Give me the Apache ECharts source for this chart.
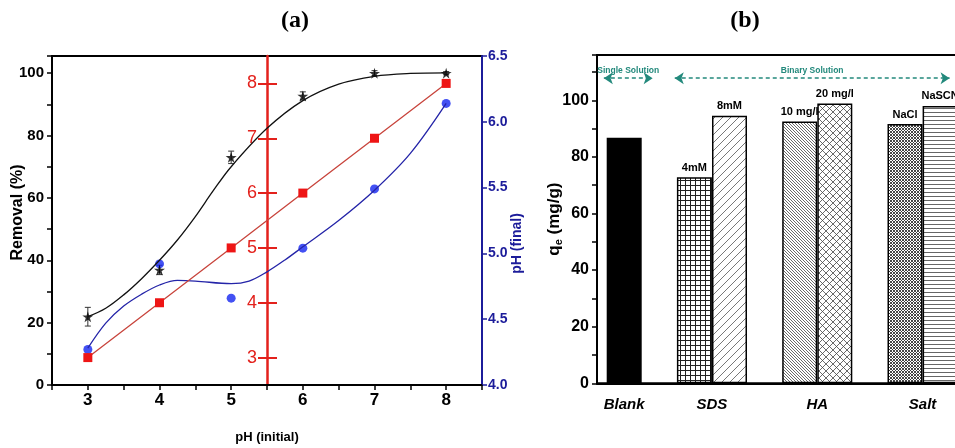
<!DOCTYPE html>
<html><head><meta charset="utf-8">
<script src="https://cdn.jsdelivr.net/npm/echarts@6/dist/echarts.min.js"></script>
<style>html,body{margin:0;padding:0;background:#fff}#c{width:955px;height:448px}</style>
</head><body><div id="c"></div>
<script>
// ---------- Data: panel (a) ----------
const pHInitial = [3, 4, 5, 6, 7, 8];
const removal = [21.9, 36.9, 73.0, 92.7, 100.0, 100.0];
const removalErr = [3.0, 1.5, 2.0, 1.3, 0.8, 0.5];
const pHRed = [3, 4, 5, 6, 7, 8];
const pHFinal = [4.27, 4.92, 4.66, 5.04, 5.49, 6.14];
const removalFitX = [3, 3.25, 3.5, 3.75, 4, 4.25, 4.5, 4.75, 5, 5.5, 6, 6.5, 7, 7.5, 8];
const removalFitY = [21.9, 24.6, 28.9, 34.1, 40.0, 46.5, 54.0, 62.3, 70.0, 82.3, 91.2, 96.5, 99.0, 99.9, 100.1];
const pHFinalFitX = [3, 3.25, 3.5, 3.75, 4, 4.25, 4.5, 5, 5.25, 5.5, 5.75, 6, 6.5, 7, 7.5, 8];
const pHFinalFitY = [4.28, 4.47, 4.60, 4.69, 4.76, 4.795, 4.79, 4.77, 4.79, 4.86, 4.95, 5.05, 5.25, 5.48, 5.76, 6.14];
const xTicksA = [3, 4, 5, 6, 7, 8];

// ---------- Data: panel (b) ----------
const groups = ['Blank', 'SDS', 'HA', 'Salt'];
const barNames = ['', '4mM', '8mM', '10 mg/l', '20 mg/l', 'NaCl', 'NaSCN'];
const barGroup = [0, 1, 1, 2, 2, 3, 3];
const barSlots = [0, 2, 3, 5, 6, 8, 9];
const qe = [86.8, 72.8, 94.5, 92.5, 98.9, 91.6, 98.0];
const solutionLabels = ['Single Solution', 'Binary Solution'];

// ---------- Styles ----------
const SANS = "'Liberation Sans',Arial,sans-serif";
const RED = '#e3211c', BLUE_AX = '#1c1c9a', TEAL = '#23897c';

function pat(size, draw) {
  const c = document.createElement('canvas');
  c.width = c.height = size;
  const g = c.getContext('2d');
  g.fillStyle = '#fff'; g.fillRect(0, 0, size, size);
  g.strokeStyle = '#222'; g.lineWidth = 1;
  draw(g, size);
  return { image: c, repeat: 'repeat' };
}
function seg(g, x1, y1, x2, y2) { g.beginPath(); g.moveTo(x1, y1); g.lineTo(x2, y2); g.stroke(); }
const fills = [
  '#000',
  pat(5, (g, s) => { seg(g, 0, 0.5, s, 0.5); seg(g, 0.5, 0, 0.5, s); }),
  pat(8, (g, s) => { g.strokeStyle = '#555'; g.lineWidth = 0.8; seg(g, -1, s + 1, s + 1, -1); seg(g, -1, 1, 1, -1); seg(g, s - 1, s + 1, s + 1, s - 1); }),
  pat(3, (g, s) => { g.strokeStyle = '#444'; g.lineWidth = 0.8; seg(g, -1, -1, s + 1, s + 1); seg(g, -1, s - 1, 1, s + 1); seg(g, s - 1, -1, s + 1, 1); }),
  pat(7, (g, s) => { g.strokeStyle = '#444'; g.lineWidth = 0.8; seg(g, -1, -1, s + 1, s + 1); seg(g, -1, s + 1, s + 1, -1); }),
  pat(3, (g, s) => { g.strokeStyle = '#333'; g.lineWidth = 0.9; seg(g, -1, -1, s + 1, s + 1); seg(g, -1, s + 1, s + 1, -1); }),
  pat(4, (g, s) => { g.strokeStyle = '#555'; g.lineWidth = 0.9; seg(g, 0, 0.5, s, 0.5); })
];

const STAR = 'path://M50,0 L61,35 L98,35 L68,57 L79,91 L50,70 L21,91 L32,57 L2,35 L39,35 Z';

const groupCenters = groups.map((_, gi) => {
  const s = barSlots.filter((_, i) => barGroup[i] === gi);
  return s.reduce((a, b) => a + b, 0) / s.length;
});

const chart = echarts.init(document.getElementById('c'), null, { renderer: 'canvas' });
chart.setOption({
  animation: false,
  backgroundColor: '#fff',
  title: [
    { text: '(a)', left: 290, top: 4, textAlign: 'center', textStyle: { fontFamily: "'Liberation Serif',serif", fontWeight: 'bold', fontSize: 24, color: '#000' } },
    { text: '(b)', left: 740, top: 4, textAlign: 'center', textStyle: { fontFamily: "'Liberation Serif',serif", fontWeight: 'bold', fontSize: 24, color: '#000' } }
  ],
  grid: [
    { left: 52, top: 56, width: 430, height: 329, show: true, borderColor: '#000', borderWidth: 2, outerBoundsMode: 'none', containLabel: false },
    { left: 597, top: 55, width: 420, height: 328.3, show: true, borderColor: '#000', borderWidth: 2, outerBoundsMode: 'none', containLabel: false }
  ],
  xAxis: [
    {
      gridIndex: 0, type: 'value', min: 2.5, max: 8.5, interval: 0.5,
      name: 'pH (initial)', nameLocation: 'middle', nameGap: 46, nameMoveOverlap: false,
      nameTextStyle: { fontFamily: SANS, fontWeight: 'bold', fontSize: 13, color: '#000' },
      axisLine: { onZero: false, lineStyle: { color: '#000', width: 2 } },
      axisTick: { lineStyle: { color: '#000', width: 1.5 }, length: 5 },
      axisLabel: { margin: 7, fontFamily: SANS, fontWeight: 'bold', fontSize: 17, color: '#000',
        formatter: v => (xTicksA.indexOf(v) >= 0 ? String(v) : '') },
      splitLine: { show: false }
    },
    {
      gridIndex: 1, type: 'value', min: -0.775, max: -0.775 + 420 / 35.1,
      axisLine: { onZero: false, lineStyle: { color: '#000', width: 2 } },
      axisTick: { show: false },
      axisLabel: { margin: 14, fontFamily: SANS, fontWeight: 'bold', fontStyle: 'italic', fontSize: 15, color: '#000',
        customValues: groupCenters,
        formatter: v => { const i = groupCenters.indexOf(v); return i >= 0 ? groups[i] : ''; } },
      splitLine: { show: false }
    }
  ],
  yAxis: [
    {
      gridIndex: 0, type: 'value', min: 0, max: 105.5, interval: 10, position: 'left',
      name: 'Removal (%)', nameLocation: 'middle', nameGap: 26, nameRotate: 90, nameMoveOverlap: false,
      nameTextStyle: { fontFamily: SANS, fontWeight: 'bold', fontSize: 16, color: '#000', padding: [0, 0, 0, 16] },
      axisLine: { show: true, onZero: false, lineStyle: { color: '#000', width: 2 } },
      axisTick: { show: true, length: 5, lineStyle: { color: '#000', width: 1.5 } },
      axisLabel: { margin: 8, fontFamily: SANS, fontWeight: 'bold', fontSize: 15, color: '#000',
        formatter: v => (v % 20 === 0 ? String(v) : '') },
      splitLine: { show: false }
    },
    {
      gridIndex: 0, type: 'value', min: 4.0, max: 6.5, interval: 0.5, position: 'right',
      name: 'pH (final)', nameLocation: 'middle', nameGap: 28, nameRotate: 90, nameMoveOverlap: false,
      nameTextStyle: { fontFamily: SANS, fontWeight: 'bold', fontSize: 14, color: BLUE_AX, padding: [0, 46, 0, 0] },
      axisLine: { show: true, onZero: false, lineStyle: { color: BLUE_AX, width: 2 } },
      axisTick: { show: true, length: 5, lineStyle: { color: BLUE_AX, width: 1.5 } },
      axisLabel: { margin: 6, fontFamily: SANS, fontWeight: 'bold', fontSize: 14, color: BLUE_AX,
        formatter: v => v.toFixed(1) },
      splitLine: { show: false }
    },
    {
      gridIndex: 0, type: 'value', min: 2.5, max: 8.5, interval: 0.5, position: 'left', offset: -215,
      axisLine: { show: true, onZero: false, lineStyle: { color: RED, width: 2.5 } },
      axisTick: { show: true, length: 9, lineStyle: { color: RED, width: 2 }, customValues: pHRed },
      axisLabel: { margin: 10, fontFamily: SANS, fontSize: 18, color: RED,
        customValues: pHRed, formatter: v => String(v) },
      splitLine: { show: false }
    },
    {
      gridIndex: 0, type: 'value', min: 2.5, max: 8.5, interval: 0.5, position: 'left', offset: -215,
      axisLine: { show: false, onZero: false },
      axisTick: { show: true, inside: true, length: 10, lineStyle: { color: RED, width: 2 }, customValues: pHRed },
      axisLabel: { show: false },
      splitLine: { show: false }
    },
    {
      gridIndex: 1, type: 'value', min: 0, max: 116, interval: 10,
      name: 'q{sub|e} (mg/g)', nameLocation: 'middle', nameGap: 33, nameRotate: 90, nameMoveOverlap: false,
      nameTextStyle: { fontFamily: SANS, fontWeight: 'bold', fontSize: 17, color: '#000',
        rich: { sub: { fontFamily: SANS, fontWeight: 'bold', fontSize: 11, color: '#000', padding: [8, 0, 0, 0] } } },
      axisLine: { show: true, onZero: false, lineStyle: { color: '#000', width: 2 } },
      axisTick: { show: true, length: 5, lineStyle: { color: '#000', width: 1.5 } },
      axisLabel: { margin: 8, fontFamily: SANS, fontWeight: 'bold', fontSize: 16, color: '#000',
        formatter: v => (v % 20 === 0 ? String(v) : '') },
      splitLine: { show: false }
    }
  ],
  series: [
    { type: 'line', xAxisIndex: 0, yAxisIndex: 0, smooth: 0.35, showSymbol: false, silent: true,
      lineStyle: { color: '#111', width: 1.3 }, data: removalFitX.map((x, i) => [x, removalFitY[i]]) },
    { type: 'line', xAxisIndex: 0, yAxisIndex: 1, smooth: 0.35, showSymbol: false, silent: true,
      lineStyle: { color: '#2424a8', width: 1.3 }, data: pHFinalFitX.map((x, i) => [x, pHFinalFitY[i]]) },
    { type: 'line', xAxisIndex: 0, yAxisIndex: 2, symbol: 'rect', symbolSize: 9,
      itemStyle: { color: '#ee1515' }, lineStyle: { color: '#c8443c', width: 1.3 },
      data: pHInitial.map((x, i) => [x, pHRed[i]]) },
    { type: 'custom', xAxisIndex: 0, yAxisIndex: 0, silent: true,
      data: pHInitial.map((x, i) => [x, removal[i] - removalErr[i], removal[i] + removalErr[i]]),
      renderItem: (params, api) => {
        const lo = api.coord([api.value(0), api.value(1)]);
        const hi = api.coord([api.value(0), api.value(2)]);
        const st = { stroke: '#333', lineWidth: 1 };
        return { type: 'group', children: [
          { type: 'line', shape: { x1: lo[0], y1: lo[1], x2: hi[0], y2: hi[1] }, style: st },
          { type: 'line', shape: { x1: lo[0] - 3, y1: lo[1], x2: lo[0] + 3, y2: lo[1] }, style: st },
          { type: 'line', shape: { x1: hi[0] - 3, y1: hi[1], x2: hi[0] + 3, y2: hi[1] }, style: st }
        ] };
      } },
    { type: 'scatter', xAxisIndex: 0, yAxisIndex: 1, symbol: 'circle', symbolSize: 9,
      itemStyle: { color: '#1426f0' }, data: pHInitial.map((x, i) => [x, pHFinal[i]]) },
    { type: 'scatter', xAxisIndex: 0, yAxisIndex: 0, symbol: STAR, symbolSize: 11,
      itemStyle: { color: '#000' }, data: pHInitial.map((x, i) => [x, removal[i]]) },
    { type: 'bar', xAxisIndex: 1, yAxisIndex: 4, barWidth: 35,
      data: barSlots.map((s, i) => ({ value: [s, qe[i]], name: barNames[i],
        itemStyle: { color: fills[i], borderColor: '#000', borderWidth: 1.5 } })),
      label: { show: true, position: 'top', distance: 4, formatter: p => p.name,
        fontFamily: SANS, fontWeight: 'bold', fontSize: 11, color: '#000' },
      markLine: {
        silent: true, symbol: ['arrow', 'arrow'], symbolSize: [9, 9],
        lineStyle: { color: TEAL, type: [4, 3], width: 1.6 },
        label: { show: true, position: 'middle', formatter: '{b}', distance: 3,
          fontFamily: SANS, fontWeight: 'bold', fontSize: 8.5, color: TEAL },
        data: [
          [{ coord: [-0.58, 107.8], name: solutionLabels[0] }, { coord: [0.81, 107.8] }],
          [{ coord: [1.44, 107.8], name: solutionLabels[1] }, { coord: [9.27, 107.8] }]
        ]
      } }
  ]
});
</script></body></html>
